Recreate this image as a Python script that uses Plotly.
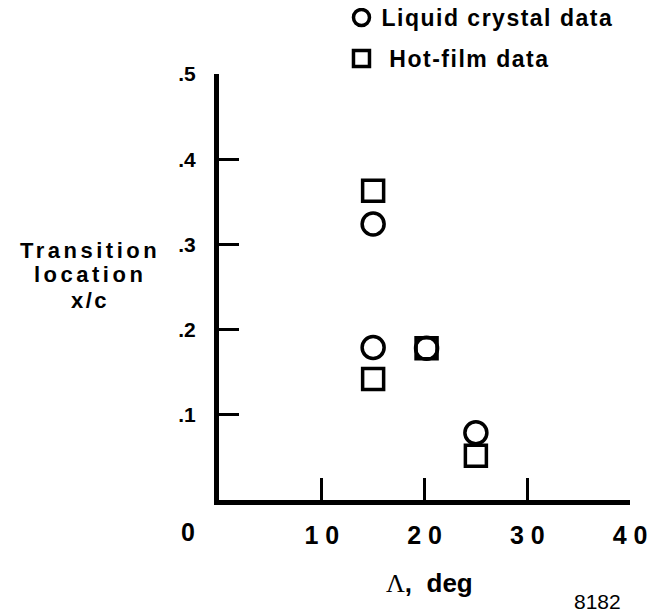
import plotly.graph_objects as go

# sweep angle (deg) vs transition location x/c
LC_SWEEP = [15, 15, 20.2, 25]
LC_XC = [0.324, 0.179, 0.178, 0.079]
HF_SWEEP = [15, 15, 20.2, 25]
HF_XC = [0.363, 0.142, 0.178, 0.052]

X_TICKS = [10, 20, 30, 40]
X_TICKTEXT = ["1 0", "2 0", "3 0", "4 0"]
Y_TICKS = [0.1, 0.2, 0.3, 0.4, 0.5]
Y_TICKTEXT = [".1", ".2", ".3", ".4", ".5"]
Y_TITLE = ["Transition", "location", "x/c"]

FONT = "Liberation Sans"
INK = "black"


def spaced(s, px):
    return f'<span style="letter-spacing:{px}px">{s}</span>'


fig = go.Figure()
fig.add_trace(go.Scatter(
    x=LC_SWEEP, y=LC_XC, mode="markers", name=spaced("Liquid crystal data", 1.5),
    marker=dict(symbol="circle-open", size=22, color=INK, line=dict(width=3.5, color=INK)),
    legendgroup="lc",
))
fig.add_trace(go.Scatter(
    x=HF_SWEEP, y=HF_XC, mode="markers", name=spaced(" Hot-film data", 1.5),
    marker=dict(symbol="square-open", size=21, color=INK, line=dict(width=3.5, color=INK)),
    legendgroup="hf",
))

# page body has an 8px margin, so everything is laid out 8px up/left
fig.update_layout(
    width=665, height=615,
    margin=dict(l=211, r=43, t=66, b=123, autoexpand=False),
    plot_bgcolor="white", paper_bgcolor="white",
    font=dict(family=FONT, color=INK),
    legend=dict(
        x=0.298, y=1.183, xanchor="left", yanchor="top",
        font=dict(size=23, weight="bold"),
        traceorder="grouped", tracegroupgap=8,
        bgcolor="rgba(0,0,0,0)",
    ),
)
fig.update_xaxes(
    range=[0, 40], tickvals=X_TICKS, ticktext=X_TICKTEXT,
    ticks="inside", ticklen=22, tickwidth=3, tickcolor=INK,
    showline=True, linewidth=5, linecolor=INK,
    showgrid=False, zeroline=False,
    tickfont=dict(size=25, weight="bold"), ticklabelstandoff=9,
)
fig.update_yaxes(
    range=[0, 0.5], tickvals=Y_TICKS, ticktext=Y_TICKTEXT,
    ticks="inside", ticklen=20, tickwidth=3, tickcolor=INK,
    showline=True, linewidth=5, linecolor=INK,
    showgrid=False, zeroline=False,
    tickfont=dict(size=21, weight="bold"), ticklabelstandoff=14,
)

# corner "0" label
fig.add_annotation(x=-0.075, y=0, xref="paper", yref="paper", xanchor="center", yanchor="middle",
                   yshift=-32, text="0", showarrow=False, font=dict(size=25, weight="bold"))
# y title, one line at a time (tight line spacing)
for txt, yy, sp in zip(Y_TITLE, [0.2934, 0.2641, 0.2347], [3.5, 3.5, 2.5]):
    fig.add_annotation(x=-0.314, y=yy, xref="paper", yref="y", xanchor="center", yanchor="middle",
                       text=spaced(txt, sp), showarrow=False, font=dict(size=22, weight="bold"))
fig.add_annotation(x=20.5, y=-0.195, xref="x", yref="paper", yanchor="middle",
                   text='<span style="font-family:Liberation Serif;font-weight:normal">Λ</span>,  deg',
                   showarrow=False, font=dict(size=26, weight="bold"))
fig.add_annotation(x=36.8, y=-0.239, xref="x", yref="paper", yanchor="middle",
                   text="8182", showarrow=False, font=dict(size=21))

fig.write_html("out.html")
